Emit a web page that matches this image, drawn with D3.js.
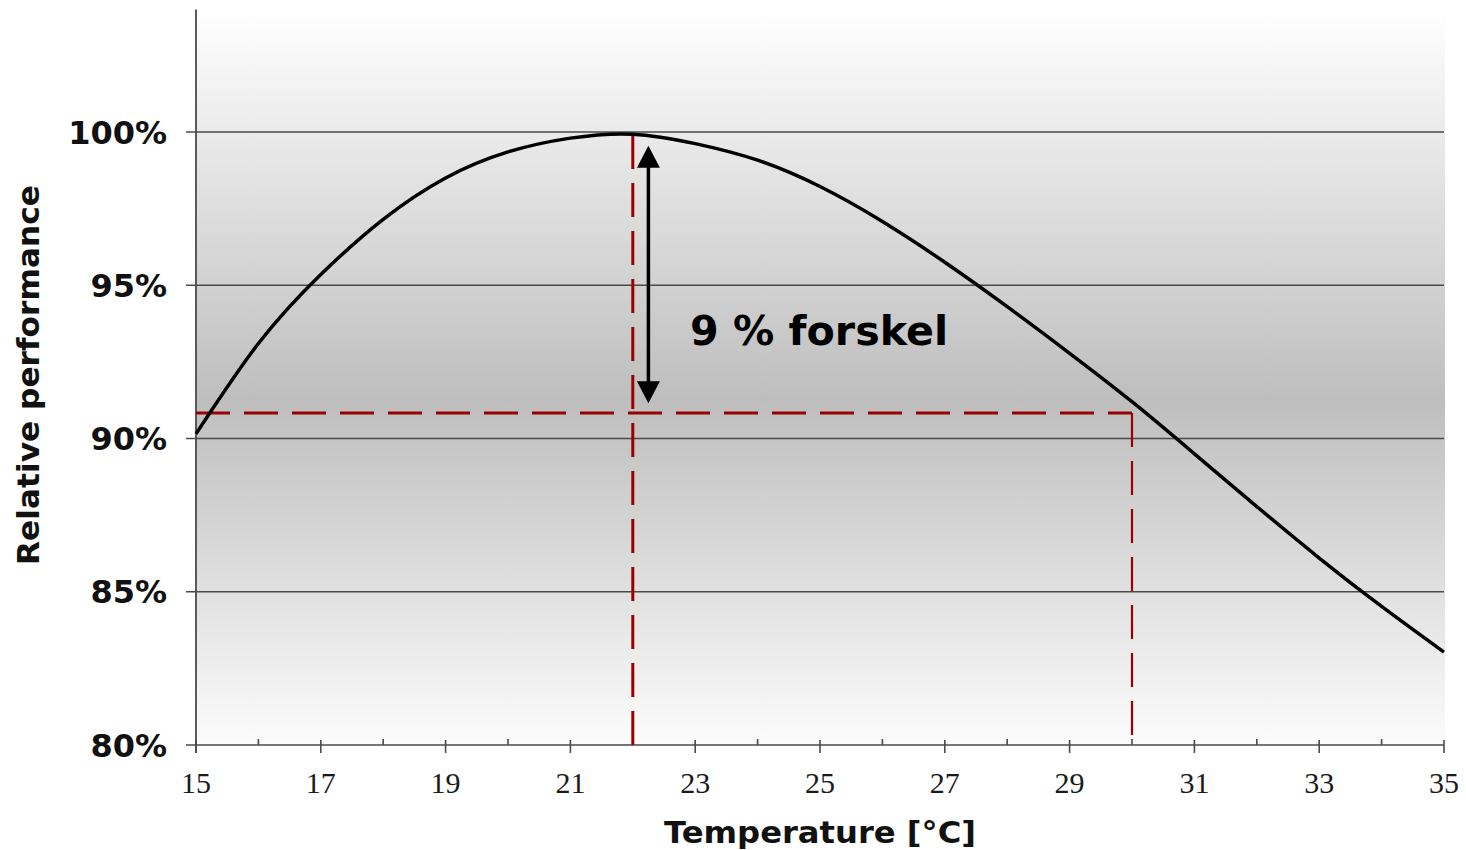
<!DOCTYPE html>
<html>
<head>
<meta charset="utf-8">
<script src="https://cdn.jsdelivr.net/npm/d3@7"></script>
<style>
  html, body { margin: 0; padding: 0; background: #ffffff; }
  svg { display: block; }
</style>
</head>
<body>
<svg id="chart" width="1466" height="850"></svg>
<script>
// ---- data ----
const temperature = [15,16,17,18,19,20,21,22,23,24,25,26,27,28,29,30,31,32,33,34,35];
const performance = [90.15,93.1,95.35,97.15,98.5,99.35,99.8,99.93,99.62,99.08,98.22,97.08,95.75,94.3,92.78,91.2,89.5,87.78,86.1,84.52,83.03];
const yTicks = [80,85,90,95,100];
const yTickLabels = ["80%","85%","90%","95%","100%"];
const xMajorTicks = [15,17,19,21,23,25,27,29,31,33,35];
const xMinorTicks = [16,18,20,22,24,26,28,30,32,34];
const refTemps = [22, 30];         // dashed verticals
const refLevel = 90.83;            // dashed horizontal
const arrowTemp = 22.25;
const arrowRange = [99.55, 91.15];
const annotation = "9 % forskel";
const xTitle = "Temperature [°C]";
const yTitle = "Relative performance";

// ---- scales ----
const svg = d3.select("#chart");
const x = d3.scaleLinear().domain([15, 35]).range([196, 1444]);
const y = d3.scaleLinear().domain([80, 100]).range([745, 132]);
const yTop = y(104);

// background gradient
const defs = svg.append("defs");
const grad = defs.append("linearGradient").attr("id","bg")
  .attr("x1",0).attr("y1",0).attr("x2",0).attr("y2",1);
grad.append("stop").attr("offset","0%").attr("stop-color","#ffffff");
grad.append("stop").attr("offset","53%").attr("stop-color","#bebebe");
grad.append("stop").attr("offset","100%").attr("stop-color","#fcfcfc");

svg.append("rect")
  .attr("x", x(15)).attr("y", yTop)
  .attr("width", x(35) - x(15) + 1).attr("height", y(80) - yTop)
  .attr("fill", "url(#bg)");

// gridlines + y ticks
svg.append("g").selectAll("line").data(yTicks).join("line")
  .attr("x1", x(15) - 10).attr("x2", x(35))
  .attr("y1", d => y(d)).attr("y2", d => y(d))
  .attr("stroke", "#4a4a4a").attr("stroke-width", 1.6);

// y axis line
svg.append("line")
  .attr("x1", x(15)).attr("x2", x(15))
  .attr("y1", yTop).attr("y2", y(80) + 8)
  .attr("stroke", "#4a4a4a").attr("stroke-width", 1.8);

// x ticks
svg.append("g").selectAll("line").data(xMajorTicks).join("line")
  .attr("x1", d => x(d)).attr("x2", d => x(d))
  .attr("y1", y(80) - 5).attr("y2", y(80) + 8)
  .attr("stroke", "#4a4a4a").attr("stroke-width", 1.6);
svg.append("g").selectAll("line").data(xMinorTicks).join("line")
  .attr("x1", d => x(d)).attr("x2", d => x(d))
  .attr("y1", y(80) - 6).attr("y2", y(80))
  .attr("stroke", "#4a4a4a").attr("stroke-width", 1.6);

// y tick labels
svg.append("g").selectAll("text").data(yTicks).join("text")
  .attr("x", 167).attr("y", d => y(d))
  .attr("dy", "0.36em")
  .attr("text-anchor", "end")
  .attr("font-family", "DejaVu Sans, Verdana, sans-serif")
  .attr("font-weight", "bold").attr("font-size", 32)
  .attr("fill", "#111")
  .text((d,i) => yTickLabels[i]);

// x tick labels
svg.append("g").selectAll("text").data(xMajorTicks).join("text")
  .attr("x", d => x(d)).attr("y", 793)
  .attr("text-anchor", "middle")
  .attr("font-family", "Liberation Serif, serif")
  .attr("font-size", 30)
  .attr("fill", "#1a1a1a")
  .text(d => d);

// titles
svg.append("text")
  .attr("x", 820).attr("y", 843)
  .attr("text-anchor", "middle")
  .attr("font-family", "DejaVu Sans, Verdana, sans-serif")
  .attr("font-weight", "bold").attr("font-size", 30)
  .attr("textLength", 312).attr("lengthAdjust", "spacingAndGlyphs")
  .attr("fill", "#111")
  .text(xTitle);

svg.append("text")
  .attr("transform", "translate(39,375) rotate(-90)")
  .attr("text-anchor", "middle")
  .attr("font-family", "DejaVu Sans, Verdana, sans-serif")
  .attr("font-weight", "bold").attr("font-size", 30)
  .attr("textLength", 380).attr("lengthAdjust", "spacingAndGlyphs")
  .attr("fill", "#111")
  .text(yTitle);

// red dashed reference lines
const red = "#990000";
const curveAt = t => performance[temperature.indexOf(t)];
svg.append("line")
  .attr("x1", x(15)).attr("x2", x(refTemps[1]))
  .attr("y1", y(refLevel)).attr("y2", y(refLevel))
  .attr("stroke", red).attr("stroke-width", 3)
  .attr("stroke-dasharray", "34,14");
svg.append("line")
  .attr("x1", x(refTemps[0])).attr("x2", x(refTemps[0]))
  .attr("y1", y(80)).attr("y2", y(curveAt(refTemps[0])))
  .attr("stroke", red).attr("stroke-width", 3)
  .attr("stroke-dasharray", "34,14");
svg.append("line")
  .attr("x1", x(refTemps[1])).attr("x2", x(refTemps[1]))
  .attr("y1", y(refLevel)).attr("y2", y(80))
  .attr("stroke", red).attr("stroke-width", 2.2)
  .attr("stroke-dasharray", "34,14");

// curve
const line = d3.line()
  .x((d,i) => x(temperature[i]))
  .y(d => y(d))
  .curve(d3.curveNatural);
svg.append("path")
  .attr("d", line(performance))
  .attr("fill", "none")
  .attr("stroke", "#000")
  .attr("stroke-width", 3.5)
  .attr("stroke-linejoin", "round");

// double arrow
const ax = x(arrowTemp);
const yA = y(arrowRange[0]), yB = y(arrowRange[1]);
const headL = 22, headW = 11.5;
svg.append("line")
  .attr("x1", ax).attr("x2", ax)
  .attr("y1", yA + headL - 2).attr("y2", yB - headL + 2)
  .attr("stroke", "#000").attr("stroke-width", 3.5);
svg.append("path")
  .attr("d", `M${ax},${yA} L${ax-headW},${yA+headL} L${ax+headW},${yA+headL} Z`)
  .attr("fill", "#000");
svg.append("path")
  .attr("d", `M${ax},${yB} L${ax-headW},${yB-headL} L${ax+headW},${yB-headL} Z`)
  .attr("fill", "#000");

// annotation text
svg.append("text")
  .attr("x", 690).attr("y", 345)
  .attr("font-family", "DejaVu Sans, Verdana, sans-serif")
  .attr("font-weight", "bold").attr("font-size", 40)
  .attr("textLength", 258).attr("lengthAdjust", "spacingAndGlyphs")
  .attr("fill", "#000")
  .text(annotation);
</script>
</body>
</html>
